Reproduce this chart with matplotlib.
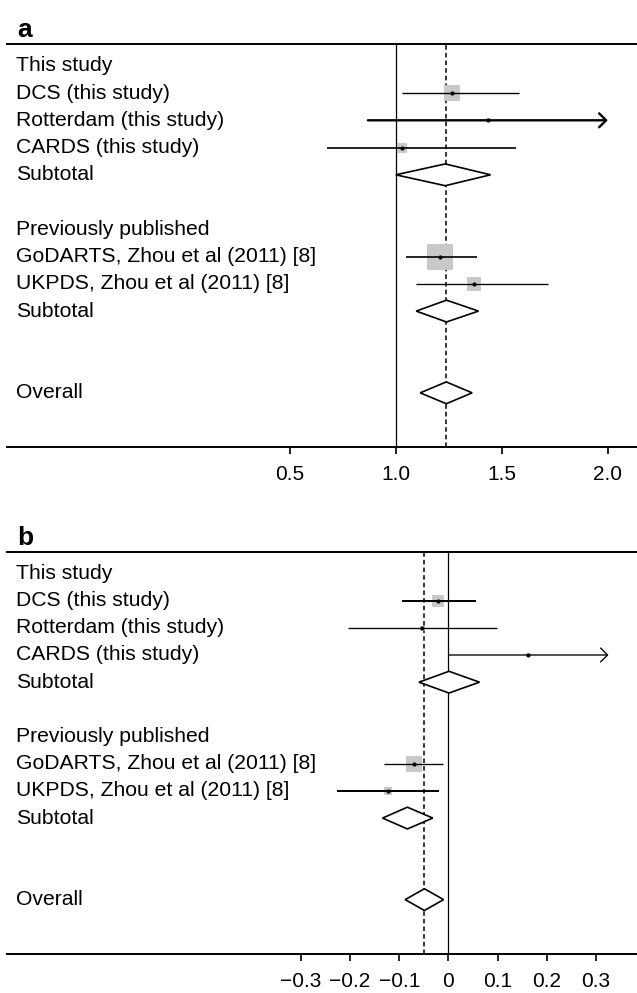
#!/usr/bin/env python3
# -*- coding: utf-8 -*-
# Forest plots (panels a and b): per-study estimates, subtotals and overall

import matplotlib
matplotlib.use("Agg")
import matplotlib.pyplot as plt
from matplotlib.patches import Polygon
from matplotlib.transforms import blended_transform_factory

plt.rcParams["font.family"] = ["Liberation Sans", "DejaVu Sans"]

# Row labels, top to bottom (empty strings are spacer rows)
ROWS = ["This study", "DCS (this study)", "Rotterdam (this study)",
        "CARDS (this study)", "Subtotal", "", "Previously published",
        "GoDARTS, Zhou et al (2011) [8]", "UKPDS, Zhou et al (2011) [8]",
        "Subtotal", "", "", "Overall"]
STUDY_ROWS = [1, 2, 3, 7, 8]
SUMMARY_ROWS = [4, 9, 12]

# Panel a
est_a = [1.267, 1.437, 1.028, 1.208, 1.368]
low_a = [1.028, 0.868, 0.677, 1.047, 1.096]
high_a = [1.582, 2.30, 1.569, 1.381, 1.720]
weight_a = [11.8, 3.0, 7.2, 19.2, 9.6]          # box size
sum_est_a = [1.233, 1.239, 1.238]
sum_low_a = [1.000, 1.096, 1.115]
sum_high_a = [1.447, 1.390, 1.360]
ticks_a = [0.5, 1.0, 1.5, 2.0]
ticklabels_a = ["0.5", "1.0", "1.5", "2.0"]

# Panel b
est_b = [-0.021, -0.053, 0.162, -0.0705, -0.123]
low_b = [-0.095, -0.204, 0.000, -0.131, -0.227]
high_b = [0.055, 0.098, 0.42, -0.012, -0.019]
weight_b = [9.1, 3.6, 3.0, 11.3, 6.3]
sum_est_b = [0.001, -0.0835, -0.049]
sum_low_b = [-0.060, -0.134, -0.088]
sum_high_b = [0.063, -0.032, -0.010]
ticks_b = [-0.3, -0.2, -0.1, 0, 0.1, 0.2, 0.3]
ticklabels_b = ["\u22120.3", "\u22120.2", "\u22120.1", "0", "0.1", "0.2", "0.3"]


def forest(ax, letter, est, low, high, weight, s_est, s_low, s_high,
           null, xlim, clip, ticks, ticklabels, widths):
    ax.set_xlim(xlim)
    ax.set_ylim(14.0, -0.8)
    ax.set_yticks([])
    for side in ("left", "right"):
        ax.spines[side].set_visible(False)
    for side in ("top", "bottom"):
        ax.spines[side].set_linewidth(1.4)

    # reference lines: null effect and overall estimate
    ax.axvline(null, color="black", lw=0.9, zorder=1)
    ax.axvline(s_est[-1], color="black", lw=1.1, dashes=(3, 2), zorder=1)

    # text column on the left, inside the axes
    trans = blended_transform_factory(ax.transAxes, ax.transData)
    for i, txt in enumerate(ROWS):
        if txt:
            ax.text(0.0143, i, txt, transform=trans, fontsize=15.2,
                    va="center")

    for k, r in enumerate(STUDY_ROWS):
        ax.plot(est[k], r, marker="s", ms=weight[k], color="#c8c8c8",
                mew=0, zorder=2)
        if high[k] > clip:
            ax.annotate("", xy=(clip, r), xytext=(low[k], r),
                        arrowprops=dict(arrowstyle="->,head_length=0.5,head_width=0.5",
                                        lw=widths[k], color="black",
                                        shrinkA=0, shrinkB=0), zorder=3)
        else:
            ax.plot([low[k], high[k]], [r, r], color="black",
                    lw=widths[k], solid_capstyle="butt", zorder=3)
        ax.plot(est[k], r, marker="o", ms=3, color="black", mew=0, zorder=4)

    # diamonds for subtotals and overall
    for k, r in enumerate(SUMMARY_ROWS):
        pts = [(s_low[k], r), (s_est[k], r - 0.4),
               (s_high[k], r), (s_est[k], r + 0.4)]
        ax.add_patch(Polygon(pts, closed=True, facecolor="white",
                             edgecolor="black", lw=1.2, zorder=3))

    ax.set_xticks(ticks)
    ax.set_xticklabels(ticklabels, fontsize=15)
    ax.tick_params(axis="x", direction="out", length=5, width=1.2, pad=8)

    ax.text(0.016, 1.005, letter, transform=ax.transAxes, fontsize=19,
            fontweight="bold", va="bottom", ha="left")


def main():
    fig = plt.figure(figsize=(6.37, 9.93), dpi=100)
    ax_a = fig.add_axes([0.011, 0.5495, 0.989, 0.4062])
    ax_b = fig.add_axes([0.011, 0.0393, 0.989, 0.4051])

    forest(ax_a, "a", est_a, low_a, high_a, weight_a,
           sum_est_a, sum_low_a, sum_high_a, null=1.0,
           xlim=(-0.835, 2.138), clip=2.0, ticks=ticks_a,
           ticklabels=ticklabels_a, widths=[1.0, 1.7, 1.2, 1.2, 0.95])
    forest(ax_b, "b", est_b, low_b, high_b, weight_b,
           sum_est_b, sum_low_b, sum_high_b, null=0.0,
           xlim=(-0.897, 0.383), clip=0.325, ticks=ticks_b,
           ticklabels=ticklabels_b, widths=[1.45, 0.95, 0.95, 0.95, 1.45])

    fig.savefig("out.png", dpi=100)
    plt.close(fig)


if __name__ == "__main__":
    main()
